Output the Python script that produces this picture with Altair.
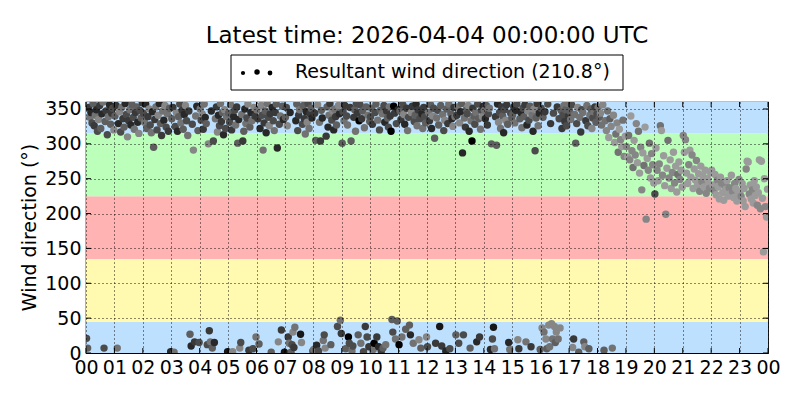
import altair as alt
import pandas as pd

# ---- wind direction readings (degrees), one list per hour, in time order ----
h00 = [21, 7, 352, 338, 345, 330, 358, 326, 341, 349, 318, 335, 355, 322, 343, 360, 7, 332, 347, 313, 339, 356, 328, 344, 351, 320]
h01 = [340, 355, 7, 329, 346, 317, 352, 336, 324, 358, 342, 310, 333, 349, 327, 356, 338, 321, 345, 353, 331, 315, 348, 337, 359]
h02 = [344, 331, 357, 322, 339, 350, 327, 316, 346, 295, 335, 353, 320, 341, 358, 329, 312, 347, 334, 355, 324, 343, 318, 351, 2]
h03 = [336, 352, 1, 325, 345, 318, 339, 357, 330, 348, 321, 342, 355, 333, 312, 347, 27, 10, 328, 291, 16, 340, 354, 319, 15]
h04 = [350, 334, 343, 321, 357, 338, 329, 12, 300, 32, 16, 347, 7, 304, 15, 336, 353, 317, 341, 326, 358, 332, 345, 313, 349, 322, 339, 2]
h05 = [344, 331, 356, 320, 2, 339, 348, 327, 353, 301, 335, 7, 15, 342, 304, 318, 350, 329, 337, 357, 4, 324, 345, 333, 6, 352, 340, 23]
h06 = [349, 336, 13, 322, 355, 341, 291, 330, 347, 316, 358, 338, 326, 343, 1, 352, 333, 319, 345, 357, 294, 16, 328, 340, 33, 354, 335, 1]
h07 = [338, 352, 326, 23, 14, 345, 1, 12, 30, 8, 37, 333, 357, 319, 341, 349, 27, 15, 328, 355, 336, 314, 346, 331, 358, 322, 343, 351, 337, 3]
h08 = [5, 344, 305, 11, 356, 3, 331, 304, 348, 337, 18, 26, 7, 311, 353, 324, 341, 358, 12, 334, 347, 320, 350, 339, 327, 38, 355, 343, 47, 28]
h09 = [301, 346, 333, 355, 6, 340, 327, 23, 14, 352, 304, 3, 10, 338, 349, 318, 358, 344, 26, 333, 356, 14, 336, 347, 2, 323, 38, 353, 23, 341, 9, 332]
h10 = [339, 351, 328, 5, 14, 345, 357, 23, 334, 9, 320, 348, 3, 343, 7, 355, 331, 12, 347, 337, 324, 353, 340, 318, 48, 30, 354, 344, 20, 329, 46, 349]
h11 = [12, 347, 335, 23, 356, 342, 328, 34, 351, 319, 338, 40, 26, 345, 354, 14, 332, 341, 357, 326, 349, 19, 336, 7, 343, 322, 352, 339, 330, 23]
h12 = [9, 345, 333, 356, 322, 340, 351, 308, 14, 337, 348, 327, 38, 355, 10, 342, 319, 334, 3, 350, 329, 357, 6, 343, 336, 325, 352, 339]
h13 = [26, 341, 353, 14, 330, 346, 358, 287, 26, 337, 324, 349, 343, 355, 318, 7, 333, 304, 351, 340, 328, 345, 16, 357, 336, 23, 321, 348, 339, 354]
h14 = [348, 336, 355, 327, 343, 351, 5, 300, 20, 37, 6, 339, 298, 357, 331, 345, 322, 353, 340, 316, 349, 334, 356, 328, 15, 5, 344, 337]
h15 = [342, 353, 330, 348, 357, 19, 6, 336, 345, 323, 351, 339, 356, 16, 327, 347, 334, 354, 9, 341, 318, 350, 290, 337, 358, 326, 344, 5]
h16 = [351, 36, 338, 30, 346, 20, 6, 357, 40, 9, 329, 42, 20, 344, 38, 15, 30, 353, 20, 336, 36, 348, 322, 341, 355, 332, 349, 326, 358, 340]
h17 = [347, 335, 356, 8, 20, 342, 301, 329, 352, 1, 338, 317, 349, 345, 16, 9, 333, 355, 326, 6, 341, 350, 322, 337, 346, 353, 331, 343]
h18 = [352, 338, 344, 327, 356, 4, 333, 319, 347, 309, 336, 325, 7, 341, 302, 314, 330, 288, 321, 306, 296, 334, 282, 311]
h19 = [296, 281, 312, 277, 340, 290, 266, 305, 284, 329, 273, 318, 258, 295, 234, 287, 269, 324, 192, 279, 262, 301, 251, 286, 270, 244]
h20 = [228, 294, 262, 247, 271, 326, 319, 255, 283, 240, 199, 265, 305, 251, 277, 236, 259, 288, 244, 268, 231, 256, 274, 249, 262, 238]
h21 = [312, 288, 306, 258, 243, 270, 291, 252, 284, 236, 264, 248, 276, 241, 257, 232, 268, 246, 254, 238, 262, 229, 250, 244, 236, 258]
h22 = [262, 241, 233, 256, 227, 248, 238, 221, 252, 244, 230, 219, 240, 235, 247, 225, 237, 229, 255, 232, 223, 243, 236, 218, 228, 249]
h23 = [232, 225, 243, 218, 236, 210, 264, 275, 274, 228, 241, 221, 234, 215, 247, 226, 238, 212, 230, 277, 207, 275, 222, 145, 250, 210, 195, 235]

# ---- wind speed class (0..9) of each reading, same order ----
s00 = "54637546375264735465374652"
s01 = "4637253647526374536472546"
s02 = "5374625374635274637253647"
s03 = "4635274536472536475263745"
s04 = "3526374526374573627536472538"
s05 = "4536275364725364735264735263"
s06 = "3647253647352647536472536478"
s07 = "452637452637456382546372536475"
s08 = "364725364735264736452736452736"
s09 = "45364539564356435649536453645364"
s10 = "54639546375463457364536945963547"
s11 = "946352746354726354736254736542"
s12 = "5364725463548463527463547263"
s13 = "463527475364527439645375463527"
s14 = "3746537458364725364752647354"
s15 = "4637526473546372546372546374"
s16 = "524362452362352426352465364536"
s17 = "4352634524365342635434253645"
s18 = "342324323142321323121321"
s19 = "21321231221312213121231221"
s20 = "51212312112132112121131211"
s21 = "21211211211121121211121121"
s22 = "11211211121121112112121112"
s23 = "1211112112112111121121111211"

hour_dirs = [h00, h01, h02, h03, h04, h05, h06, h07, h08, h09, h10, h11,
             h12, h13, h14, h15, h16, h17, h18, h19, h20, h21, h22, h23]
hour_speeds = [s00, s01, s02, s03, s04, s05, s06, s07, s08, s09, s10, s11,
               s12, s13, s14, s15, s16, s17, s18, s19, s20, s21, s22, s23]

# ---- sector bands ----
band_lo = [0, 45, 135, 225, 315]
band_hi = [45, 135, 225, 315, 360]
band_col = ["#bee0ff", "#fffab0", "#ffb3b3", "#bbffbb", "#bee0ff"]

x_ticks = list(range(25))
y_ticks = [0, 50, 100, 150, 200, 250, 300, 350]

title_text = "Latest time: 2026-04-04 00:00:00 UTC"
legend_text = "Resultant wind direction (210.8°)"
y_title = "Wind direction (°)"

rows = []
for hour, (dirs, spd) in enumerate(zip(hour_dirs, hour_speeds)):
    n = len(dirs)
    for i, d in enumerate(dirs):
        rows.append({"t": hour + (i + 0.5) / n, "dir": d, "speed": int(spd[i % len(spd)])})
df = pd.DataFrame(rows)

bands = pd.DataFrame({"lo": band_lo, "hi": band_hi, "col": band_col})
xt = pd.DataFrame({"t": x_ticks})
yt = pd.DataFrame({"d": y_ticks})
one = pd.DataFrame({"a": [0]})

W, H = 682, 251
FONT = "DejaVu Sans"

xscale = alt.Scale(domain=[0, 24], nice=False, zero=False)
yscale = alt.Scale(domain=[0, 360], nice=False, zero=True)

common = dict(title=None, grid=True, gridDash=[1, 3], gridColor="black", gridWidth=1, gridOpacity=0.9,
              ticks=False, tickSize=0, domain=False, labelFontSize=19, labelFont=FONT,
              labelColor="black", labelOverlap=False, labelFlush=False, zindex=1)
x_axis = alt.Axis(values=x_ticks, labelPadding=5,
                  labelExpr="(datum.value % 24) < 10 ? '0' + (datum.value % 24) : '' + (datum.value % 24)",
                  **common)
y_axis = alt.Axis(values=y_ticks, labelPadding=5, **common)

band_layer = alt.Chart(bands).mark_rect().encode(
    x=alt.value(0), x2=alt.value(W),
    y=alt.Y("lo:Q", scale=yscale, axis=y_axis), y2="hi:Q",
    fill=alt.Fill("col:N", scale=None),
)

points = alt.Chart(df).mark_circle(size=55, opacity=1, clip=True).encode(
    x=alt.X("t:Q", scale=xscale, axis=x_axis),
    y=alt.Y("dir:Q", scale=yscale, axis=y_axis),
    color=alt.Color("speed:Q", scale=alt.Scale(domain=[0, 9], range=["#b0b0b0", "#000000"]), legend=None),
)

tick_bottom = alt.Chart(xt).mark_rule(color="black", strokeWidth=1).encode(
    x=alt.X("t:Q", scale=xscale, axis=x_axis), y=alt.value(H), y2=alt.value(H - 5))
tick_top = alt.Chart(xt).mark_rule(color="black", strokeWidth=1).encode(
    x=alt.X("t:Q", scale=xscale, axis=x_axis), y=alt.value(0), y2=alt.value(5))
tick_left = alt.Chart(yt).mark_rule(color="black", strokeWidth=1).encode(
    y=alt.Y("d:Q", scale=yscale, axis=y_axis), x=alt.value(0), x2=alt.value(5))
tick_right = alt.Chart(yt).mark_rule(color="black", strokeWidth=1).encode(
    y=alt.Y("d:Q", scale=yscale, axis=y_axis), x=alt.value(W), x2=alt.value(W - 5))

legend_box = alt.Chart(one).mark_rect(fill="white", stroke="black", strokeWidth=1).encode(
    x=alt.value(145), x2=alt.value(537), y=alt.value(-47), y2=alt.value(-12))
dot1 = alt.Chart(one).mark_circle(color="black", opacity=1).encode(
    x=alt.value(157), y=alt.value(-29), size=alt.value(18))
dot2 = alt.Chart(one).mark_circle(color="black", opacity=1).encode(
    x=alt.value(171), y=alt.value(-30), size=alt.value(30))
dot3 = alt.Chart(one).mark_circle(color="black", opacity=1).encode(
    x=alt.value(184), y=alt.value(-29), size=alt.value(23))
legend_label = alt.Chart(one).mark_text(align="left", baseline="middle", fontSize=19, font=FONT,
                                        color="black").encode(
    x=alt.value(209), y=alt.value(-30), text=alt.value(legend_text))
title_mark = alt.Chart(one).mark_text(align="center", baseline="middle", fontSize=23, font=FONT,
                                      color="black").encode(
    x=alt.value(W / 2), y=alt.value(-66), text=alt.value(title_text))
ytitle_mark = alt.Chart(one).mark_text(align="center", baseline="middle", fontSize=19, font=FONT,
                                       color="black", angle=270).encode(
    x=alt.value(-56), y=alt.value(H / 2), text=alt.value(y_title))

chart = alt.layer(
    band_layer, points, tick_bottom, tick_top, tick_left, tick_right,
    legend_box, dot1, dot2, dot3, legend_label, title_mark, ytitle_mark,
).properties(
    width=W, height=H,
    autosize=alt.AutoSizeParams(type="none"),
    padding={"left": 78, "top": 94, "right": 20, "bottom": 40},
).configure_view(
    stroke="black", strokeWidth=1.2,
)

chart.save("out.html", embed_options={"renderer": "svg", "actions": False})
